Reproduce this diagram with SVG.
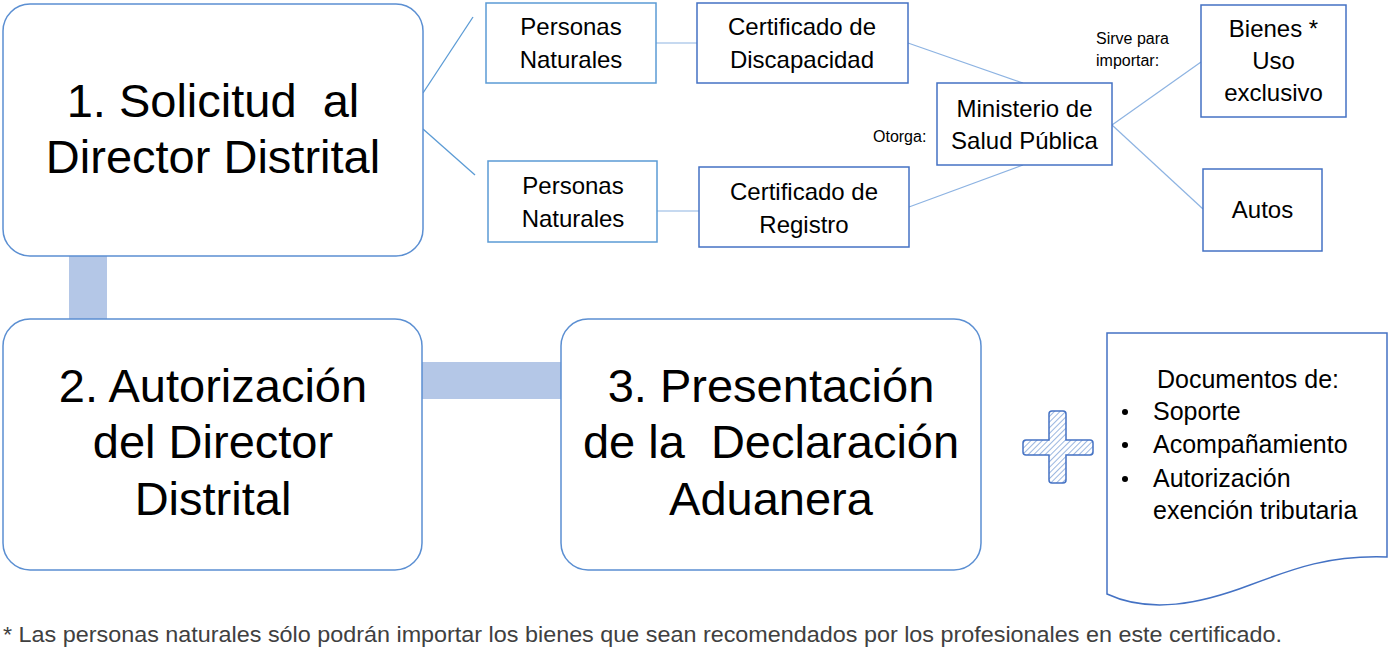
<svg xmlns="http://www.w3.org/2000/svg" width="1388" height="649" viewBox="0 0 1388 649">
<style>
text{font-family:"Liberation Sans",Arial,sans-serif;fill:#000;white-space:pre}
.big{font-size:47px;text-anchor:middle}
.mid{font-size:24px;text-anchor:middle}
.doc{font-size:25px}
.sm{font-size:16px}
.foot{font-size:22px;fill:#404040}
.step{fill:#fff;stroke:#5b8fd2;stroke-width:1.5}
.box{fill:#fff;stroke:#4472c4;stroke-width:1.5}
.pbox{fill:#fff;stroke:#5b9bd5;stroke-width:1.5}
.bar{fill:#b4c7e7}
.ln{stroke:#8db3e2;stroke-width:1.2;fill:none}
.ln2{stroke:#5b9bd5;stroke-width:1.3;fill:none}
</style>
<defs>
<pattern id="hatch" patternUnits="userSpaceOnUse" width="4" height="4" patternTransform="rotate(45)">
<rect width="4" height="4" fill="#fff"/>
<line x1="0" y1="0" x2="0" y2="4" stroke="#9bb7e0" stroke-width="2"/>
</pattern>
</defs>
<g id="connectors">
<rect class="bar" x="69" y="255" width="38" height="64"/>
<rect class="bar" x="422" y="362" width="139" height="37"/>
<line class="ln2" x1="423" y1="93" x2="473" y2="17"/>
<line class="ln2" x1="423" y1="129" x2="475" y2="175"/>
<line class="ln" x1="656" y1="43" x2="697" y2="43"/>
<line class="ln" x1="657" y1="211" x2="699" y2="211"/>
<line class="ln" x1="908" y1="43" x2="1023" y2="83"/>
<line class="ln" x1="909" y1="207" x2="1023" y2="165"/>
<line class="ln" x1="1112" y1="125" x2="1201" y2="62"/>
<line class="ln" x1="1112" y1="125" x2="1203" y2="209"/>
</g>
<g id="step1">
<rect class="step" x="3" y="4" width="420" height="252" rx="27"/>
<text class="big" x="213" y="117">1. Solicitud  al</text>
<text class="big" x="213" y="173">Director Distrital</text>
</g>
<g id="step2">
<rect class="step" x="3" y="319" width="419" height="251" rx="27"/>
<text class="big" x="213" y="402">2. Autorización</text>
<text class="big" x="213" y="458">del Director</text>
<text class="big" x="213" y="515">Distrital</text>
</g>
<g id="step3">
<rect class="step" x="561" y="319" width="420" height="251" rx="27"/>
<text class="big" x="771" y="402">3. Presentación</text>
<text class="big" x="771" y="458">de la  Declaración</text>
<text class="big" x="771" y="515">Aduanera</text>
</g>
<g id="personas1">
<rect class="pbox" x="486" y="3" width="170" height="80"/>
<text class="mid" x="571" y="35">Personas</text>
<text class="mid" x="571" y="68">Naturales</text>
</g>
<g id="cert-discapacidad">
<rect class="box" x="697" y="3" width="211" height="80"/>
<text class="mid" x="802" y="35">Certificado de</text>
<text class="mid" x="802" y="68">Discapacidad</text>
</g>
<g id="personas2">
<rect class="pbox" x="488" y="161" width="169" height="81"/>
<text class="mid" x="573" y="194">Personas</text>
<text class="mid" x="573" y="227">Naturales</text>
</g>
<g id="cert-registro">
<rect class="box" x="699" y="167" width="210" height="80"/>
<text class="mid" x="804" y="200">Certificado de</text>
<text class="mid" x="804" y="233">Registro</text>
</g>
<g id="ministerio">
<rect class="box" x="937" y="83" width="175" height="82"/>
<text class="mid" x="1024.5" y="117">Ministerio de</text>
<text class="mid" x="1024.5" y="149">Salud Pública</text>
<text class="sm" x="873" y="142">Otorga:</text>
<text class="sm" x="1096" y="44">Sirve para</text>
<text class="sm" x="1096" y="66">importar:</text>
</g>
<g id="bienes">
<rect class="box" x="1201" y="5" width="145" height="112"/>
<text class="mid" x="1273.5" y="37">Bienes *</text>
<text class="mid" x="1273.5" y="69">Uso</text>
<text class="mid" x="1273.5" y="101">exclusivo</text>
</g>
<g id="autos">
<rect class="box" x="1203" y="169" width="119" height="82"/>
<text class="mid" x="1262.5" y="218">Autos</text>
</g>
<g id="plus">
<path d="M1052,411 H1063 Q1066,411 1066,414 V440 H1090 Q1093,440 1093,443 V452 Q1093,455 1090,455 H1066 V480 Q1066,483 1063,483 H1052 Q1049,483 1049,480 V455 H1026 Q1023,455 1023,452 V443 Q1023,440 1026,440 H1049 V414 Q1049,411 1052,411 Z" fill="url(#hatch)" stroke="#4472c4" stroke-width="1.5"/>
</g>
<g id="documentos">
<path d="M1107,333 H1387 V557 C1330,555 1295,568 1250,585 C1200,604 1150,614 1107,594 Z" fill="#fff" stroke="#4472c4" stroke-width="1.5"/>
<text class="doc" x="1157" y="388">Documentos de:</text>
<circle cx="1125" cy="412" r="3"/>
<circle cx="1125" cy="445" r="3"/>
<circle cx="1125" cy="479" r="3"/>
<text class="doc" x="1153" y="420">Soporte</text>
<text class="doc" x="1153" y="453">Acompañamiento</text>
<text class="doc" x="1153" y="487">Autorización</text>
<text class="doc" x="1153" y="519">exención tributaria</text>
</g>
<text class="foot" x="3" y="642" textLength="1279" lengthAdjust="spacingAndGlyphs">* Las personas naturales sólo podrán importar los bienes que sean recomendados por los profesionales en este certificado.</text>
</svg>
